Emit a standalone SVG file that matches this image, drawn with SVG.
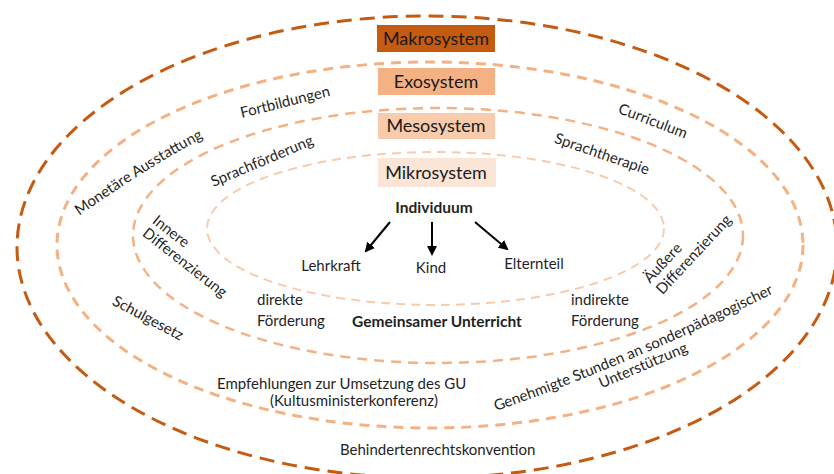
<svg xmlns="http://www.w3.org/2000/svg" width="834" height="474" viewBox="0 0 834 474">
<defs>
<style>
.t{font-family:Lato,"Liberation Sans",sans-serif;font-size:15px;fill:#1f1f1f}
.b{font-weight:bold;font-size:15.5px}
.bx{font-family:Lato,"Liberation Sans",sans-serif;font-size:18px;fill:#1a1a1a;text-anchor:middle}
.m{text-anchor:middle}
.ring{fill:none}
.arr{stroke:#000;stroke-width:2;fill:none;marker-end:url(#ah)}
</style>
<marker id="ah" viewBox="0 0 10 10" refX="8" refY="5" markerWidth="5" markerHeight="5" orient="auto">
<path d="M0,0 L10,5 L0,10 z" fill="#000"/>
</marker>
<path id="p_mon" d="M79,216 Q158,160 215,132"/>
<path id="p_gen" d="M496,411 Q643,360 800,280"/>
</defs>
<rect width="834" height="474" fill="#fff"/>

<g id="rings">
<ellipse id="makro-ring" class="ring" cx="427" cy="247" rx="410" ry="231" stroke="#C55A11" stroke-width="3" stroke-dasharray="15 8"/>
<ellipse id="exo-ring" class="ring" cx="430" cy="245" rx="373" ry="183" stroke="#F4B183" stroke-width="3" stroke-dasharray="10 7"/>
<ellipse id="meso-ring" class="ring" cx="438" cy="235.5" rx="305" ry="127.5" stroke="#F4B183" stroke-width="2.5" stroke-dasharray="10 7"/>
<ellipse id="mikro-ring" class="ring" cx="435.5" cy="228.5" rx="228.5" ry="76.5" stroke="#F8CBAD" stroke-width="2" stroke-dasharray="9 6"/>
</g>

<g id="makrosystem"><rect x="377" y="25" width="118" height="27" fill="#C55A11"/><text class="bx" x="436" y="45">Makrosystem</text></g>
<g id="exosystem"><rect x="378" y="68" width="117" height="27" fill="#F4B183"/><text class="bx" x="436" y="88">Exosystem</text></g>
<g id="mesosystem"><rect x="378" y="113" width="117" height="26" fill="#F8CBAD"/><text class="bx" x="436" y="132">Mesosystem</text></g>
<g id="mikrosystem"><rect x="378" y="158" width="118" height="29" fill="#FBE5D6"/><text class="bx" x="436" y="179">Mikrosystem</text></g>

<g id="individuum"><text class="t b m" x="434" y="213">Individuum</text></g>
<g id="lehrkraft"><text class="t m" x="331" y="271">Lehrkraft</text></g>
<g id="kind"><text class="t m" x="431" y="273">Kind</text></g>
<g id="elternteil"><text class="t m" x="534" y="269">Elternteil</text></g>

<g id="connectors">
<line class="arr" x1="390" y1="222" x2="366" y2="251"/>
<line class="arr" x1="432" y1="222" x2="432" y2="254"/>
<line class="arr" x1="475" y1="222" x2="507" y2="249"/>
</g>

<g id="fortbildungen"><text class="t m" transform="translate(285,102) rotate(-14)" y="5">Fortbildungen</text></g>
<g id="monetaere"><text class="t"><textPath href="#p_mon">Monetäre Ausstattung</textPath></text></g>
<g id="sprachfoerderung"><text class="t m" transform="translate(262,161) rotate(-23)" y="5">Sprachförderung</text></g>
<g id="curriculum"><text class="t m" transform="translate(653,121) rotate(21)" y="5">Curriculum</text></g>
<g id="sprachtherapie"><text class="t m" transform="translate(602,154) rotate(19)" y="5">Sprachtherapie</text></g>
<g id="innere"><g transform="translate(188,265) rotate(38)"><text class="t" x="-55" y="-11">Innere</text><text class="t" x="-55" y="5">Differenzierung</text></g></g>
<g id="aeussere"><g transform="translate(697,251) rotate(-47)"><text class="t" x="-56" y="-12">Äußere</text><text class="t" x="-56" y="5">Differenzierung</text></g></g>
<g id="schulgesetz"><text class="t m" transform="translate(148,318) rotate(28)" y="5">Schulgesetz</text></g>
<g id="direkte"><text class="t" x="257" y="305">direkte</text><text class="t" x="257" y="326">Förderung</text></g>
<g id="indirekte"><text class="t" x="571" y="305">indirekte</text><text class="t" x="571" y="326">Förderung</text></g>
<g id="gu"><text class="t b m" x="437" y="327">Gemeinsamer Unterricht</text></g>
<g id="empfehlungen"><text class="t" x="217" y="389">Empfehlungen zur Umsetzung des GU</text><text class="t" x="270" y="406">(Kultusministerkonferenz)</text></g>
<g id="genehmigte"><text class="t"><textPath href="#p_gen">Genehmigte Stunden an sonderpädagogischer</textPath></text><text class="t m" transform="translate(645,370) rotate(-23)">Unterstützung</text></g>
<g id="brk"><text class="t" x="340" y="455">Behindertenrechtskonvention</text></g>
</svg>
